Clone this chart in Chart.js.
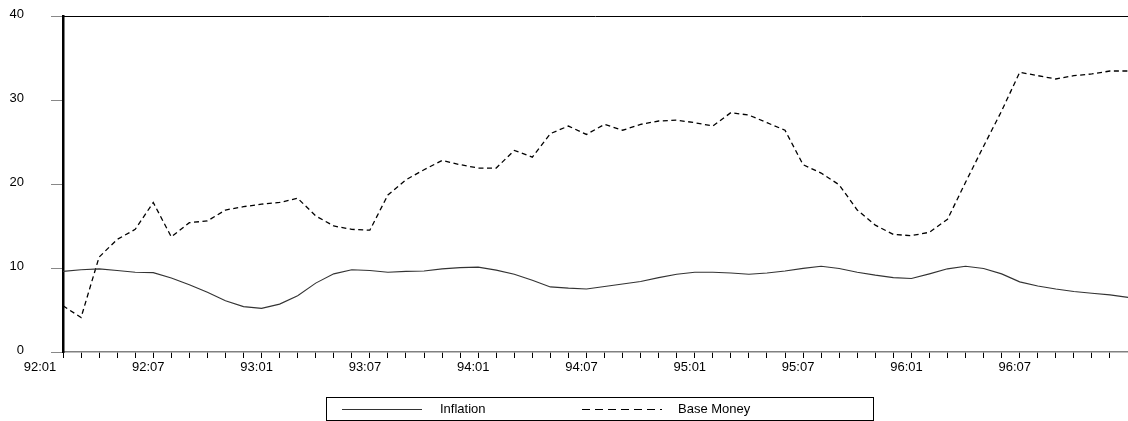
<!DOCTYPE html>
<html>
<head>
<meta charset="utf-8">
<script src="https://cdn.jsdelivr.net/npm/chart.js@4.4.1/dist/chart.umd.min.js"></script>
<style>
    html, body { margin: 0; padding: 0; background: #fff; }
    canvas { display: block; }
</style>
</head>
<body>
<canvas id="chart" width="1128" height="421"></canvas>
<script>
// Monthly data, 92:01 - 96:12
const years = ['92', '93', '94', '95', '96'];
const months = ['01', '02', '03', '04', '05', '06', '07', '08', '09', '10', '11', '12'];
const tickLabels = ['92:01', '92:07', '93:01', '93:07', '94:01', '94:07', '95:01', '95:07', '96:01', '96:07'];
const seriesNames = ['Inflation', 'Base Money'];

const inflation = [
    9.6, 9.8, 9.9, 9.7, 9.5, 9.45, 8.8, 8.0, 7.1, 6.1, 5.4, 5.2,
    5.7, 6.7, 8.2, 9.3, 9.8, 9.7, 9.5, 9.6, 9.65, 9.9, 10.05, 10.1,
    9.75, 9.25, 8.55, 7.75, 7.6, 7.5, 7.8, 8.1, 8.4, 8.85, 9.25, 9.5,
    9.5, 9.4, 9.25, 9.4, 9.65, 9.95, 10.2, 9.95, 9.5, 9.15, 8.85, 8.75,
    9.3, 9.9, 10.2, 9.95, 9.3, 8.35, 7.85, 7.5, 7.2, 7.0, 6.8, 6.5
];

const baseMoney = [
    5.5, 4.1, 11.3, 13.4, 14.6, 17.8, 13.7, 15.4, 15.6, 16.9, 17.3, 17.6,
    17.8, 18.3, 16.2, 15.0, 14.6, 14.5, 18.7, 20.5, 21.7, 22.8, 22.3, 21.9,
    21.9, 24.0, 23.2, 26.0, 26.9, 25.9, 27.1, 26.4, 27.1, 27.5, 27.6, 27.3,
    26.9, 28.5, 28.2, 27.3, 26.4, 22.3, 21.3, 19.9, 16.9, 15.1, 14.0, 13.85,
    14.25, 15.8, 20.2, 24.5, 28.7, 33.3, 32.9, 32.5, 32.9, 33.1, 33.45, 33.45
];

const yMin = 0;
const yMax = 40;
const yStep = 10;

// Build the month labels, e.g. "94:07"
const categories = [];
years.forEach(y => {
    months.forEach(m => categories.push(y + ':' + m));
});

const fontFamily = 'Arial, "Liberation Sans", sans-serif';

// Top frame line and the boxed legend under the chart
const framePlugin = {
    id: 'frameAndLegend',
    afterDraw(chart) {
        const ctx = chart.ctx;
        const area = chart.chartArea;
        ctx.save();

        // top border of the plot
        ctx.strokeStyle = '#000';
        ctx.lineWidth = 1;
        ctx.beginPath();
        ctx.moveTo(area.left, area.top + 0.5);
        ctx.lineTo(area.right, area.top + 0.5);
        ctx.stroke();

        // legend box
        ctx.strokeStyle = '#000';
        ctx.lineWidth = 1;
        ctx.strokeRect(326.5, 397.5, 547, 23);

        const lineY = 409.5;
        const items = [
            { x: 342, text: 440, dash: [], color: '#333' },
            { x: 582, text: 678, dash: [8, 5], color: '#000' }
        ];
        ctx.font = '13px ' + fontFamily;
        ctx.fillStyle = '#000';
        ctx.textBaseline = 'middle';
        ctx.textAlign = 'left';
        items.forEach((item, i) => {
            ctx.setLineDash(item.dash);
            ctx.strokeStyle = item.color;
            ctx.beginPath();
            ctx.moveTo(item.x, lineY);
            ctx.lineTo(item.x + 80, lineY);
            ctx.stroke();
            ctx.setLineDash([]);
            ctx.fillText(seriesNames[i], item.text, lineY);
        });

        ctx.restore();
    }
};

const ctx = document.getElementById('chart').getContext('2d');

const chart = new Chart(ctx, {
    type: 'line',
    data: {
        labels: categories,
        datasets: [
            {
                label: seriesNames[0],
                data: inflation,
                borderColor: '#333',
                borderWidth: 1.1,
                pointRadius: 0,
                tension: 0,
                fill: false
            },
            {
                label: seriesNames[1],
                data: baseMoney,
                borderColor: '#000',
                borderWidth: 1.3,
                borderDash: [5, 3.5],
                pointRadius: 0,
                tension: 0,
                fill: false
            }
        ]
    },
    options: {
        responsive: false,
        animation: false,
        layout: {
            padding: { left: 0, right: 0, top: 16, bottom: 0 }
        },
        plugins: {
            legend: { display: false },
            tooltip: { enabled: false }
        },
        scales: {
            x: {
                type: 'category',
                offset: false,
                ticks: {
                    autoSkip: false,
                    maxRotation: 0,
                    minRotation: 0,
                    color: '#000',
                    padding: 2,
                    labelOffset: -23,
                    font: { size: 13, family: fontFamily },
                    callback: function (value) {
                        const label = this.getLabelForValue(value);
                        return tickLabels.includes(label) ? label : '';
                    }
                },
                grid: {
                    drawOnChartArea: false,
                    tickLength: 6,
                    tickColor: '#000',
                    tickWidth: 1
                },
                border: { color: '#808080', width: 1.5 },
                afterFit: scale => {
                    scale.height = 69;
                    scale.paddingLeft = 0;
                    scale.paddingRight = 0;
                }
            },
            y: {
                min: yMin,
                max: yMax,
                ticks: {
                    stepSize: yStep,
                    color: '#000',
                    padding: 27,
                    labelOffset: -2,
                    font: { size: 13, family: fontFamily }
                },
                grid: {
                    drawOnChartArea: false,
                    tickLength: 12,
                    tickColor: '#888',
                    tickWidth: 1
                },
                border: { color: '#000', width: 2.5 },
                afterFit: scale => {
                    scale.width = 63;
                    scale.paddingTop = 0;
                    scale.paddingBottom = 0;
                }
            }
        }
    },
    plugins: [framePlugin]
});
</script>
</body>
</html>
